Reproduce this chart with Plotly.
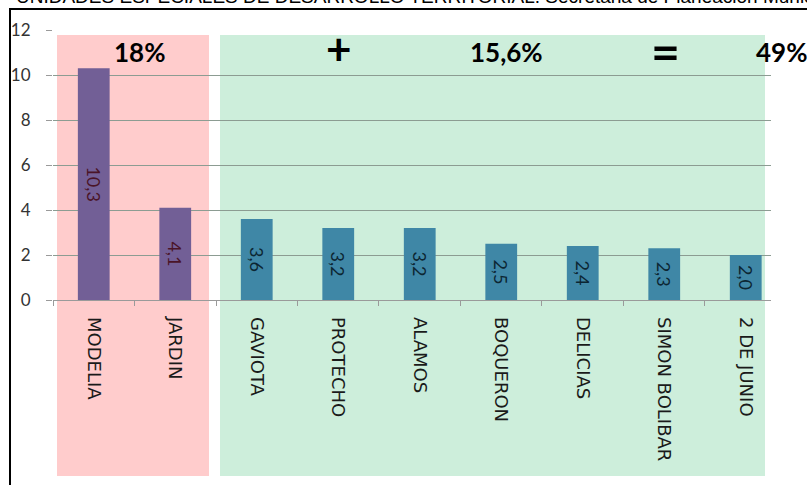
import plotly.graph_objects as go

# data
barrios = ["MODELIA", "JARDIN", "GAVIOTA", "PROTECHO", "ALAMOS",
           "BOQUERON", "DELICIAS", "SIMON BOLIBAR", "2 DE JUNIO"]
valores = [10.3, 4.1, 3.6, 3.2, 3.2, 2.5, 2.4, 2.3, 2.0]
grupo = ["a", "a", "b", "b", "b", "b", "b", "b", "b"]

# header texts above the bands
porcentajes = ["18%", "+", "15,6%", "=", "49%"]

bar_color = {"a": "#725f96", "b": "#3f87a6"}
label_color = {"a": "#4a1428", "b": "#0c2633"}

# figure geometry in page pixels
W, H = 807, 485
L, T, PW, PH = 53, 30, 718, 270


def px(xp):   # page pixel -> paper x
    return (xp - L) / PW


def py(yp):   # page pixel -> paper y
    return 1 - (yp - T) / PH


fig = go.Figure()

for g in ["a", "b"]:
    xs = [b for b, gg in zip(barrios, grupo) if gg == g]
    ys = [v for v, gg in zip(valores, grupo) if gg == g]
    fig.add_trace(go.Bar(
        x=xs, y=ys,
        width=0.39,
        marker=dict(color=bar_color[g], line=dict(width=0)),
        text=[f"{v:.1f}".replace(".", ",") for v in ys],
        textposition="inside",
        insidetextanchor="middle",
        textangle=90,
        textfont=dict(family="Lato", size=18, color=label_color[g]),
        showlegend=False,
        hoverinfo="skip",
    ))

# coloured bands behind the two groups
fig.add_shape(type="rect", xref="paper", yref="paper", x0=px(57), x1=px(209), y0=py(476), y1=py(35),
              fillcolor="#ffcccc", line_width=0, layer="below")
fig.add_shape(type="rect", xref="paper", yref="paper", x0=px(220), x1=px(765), y0=py(476), y1=py(35),
              fillcolor="#cdeedb", line_width=0, layer="below")

# page frame
fig.add_shape(type="rect", xref="paper", yref="paper",
              x0=px(10), x1=px(830), y0=py(9), y1=py(520),
              line=dict(color="black", width=2), fillcolor="rgba(0,0,0,0)", layer="above")

pos_x = [139, 339, 506, 665, 781]
pos_y = [52, 48, 52, 51, 52]
sizes = [26, 44, 26, 50, 26]
for t, x, y, s in zip(porcentajes, pos_x, pos_y, sizes):
    fig.add_annotation(x=px(x), y=py(y), xref="paper", yref="paper", text=f"<b>{t}</b>",
                       showarrow=False, xanchor="center", yanchor="middle",
                       font=dict(family="Lato", size=s, color="black"))

# clipped header line from the document above the chart
fig.add_annotation(x=px(845), y=py(9), xref="paper", yref="paper",
                   text="UNIDADES ESPECIALES DE DESARROLLO TERRITORIAL. Secretaria de Planeacion Municipal",
                   showarrow=False, xanchor="right", yanchor="bottom",
                   font=dict(family="Liberation Sans", size=19, color="black"))

fig.update_layout(
    width=W, height=H,
    margin=dict(l=L, r=W - L - PW, t=T, b=H - T - PH),
    paper_bgcolor="white",
    plot_bgcolor="rgba(0,0,0,0)",
    xaxis=dict(
        range=[-0.5, 8.31],
        tickangle=90,
        ticks="outside", ticklen=5, tickcolor="#9a9a9a",
        tickson="boundaries",
        showgrid=False,
        showline=False,
        tickfont=dict(family="DejaVu Sans", size=18, color="#1a1a1a"),
        ticklabelstandoff=16,
    ),
    yaxis=dict(
        range=[0, 12],
        dtick=2,
        showgrid=True, gridcolor="#8c9c92", gridwidth=1,
        zeroline=True, zerolinecolor="#9a9a9a", zerolinewidth=1,
        ticks="outside", ticklen=6, tickcolor="#9a9a9a",
        tickfont=dict(family="Lato", size=17, color="#333333"),
        ticklabelstandoff=12,
    ),
)

# the page would otherwise add its default 8px body margin
fig.write_html("out.html", config={"displayModeBar": False},
               post_script="document.body.style.margin = '0';")
